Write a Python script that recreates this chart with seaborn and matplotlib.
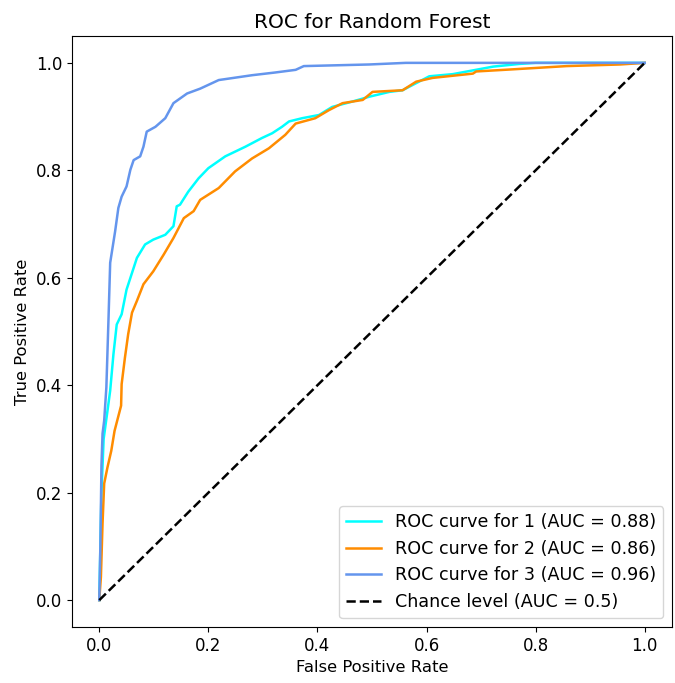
import matplotlib
matplotlib.use("Agg")
import matplotlib.pyplot as plt
import seaborn as sns
import pandas as pd

# ROC curve points
fpr_1 = [0.0, 0.002, 0.004, 0.008, 0.015, 0.020, 0.026, 0.032, 0.041, 0.050, 0.060, 0.069, 0.084, 0.099,
         0.121, 0.136, 0.142, 0.148, 0.163, 0.182, 0.200, 0.231, 0.268, 0.298, 0.317, 0.335, 0.348, 0.372,
         0.403, 0.427, 0.464, 0.495, 0.532, 0.556, 0.605, 0.648, 0.722, 0.770, 0.800, 1.0]
tpr_1 = [0.0, 0.10, 0.20, 0.30, 0.352, 0.39, 0.458, 0.513, 0.532, 0.578, 0.609, 0.637, 0.662, 0.671,
         0.680, 0.696, 0.733, 0.736, 0.760, 0.785, 0.804, 0.826, 0.844, 0.860, 0.869, 0.881, 0.891, 0.897,
         0.903, 0.918, 0.928, 0.937, 0.946, 0.949, 0.975, 0.979, 0.993, 0.998, 1.0, 1.0]

fpr_2 = [0.0, 0.003, 0.006, 0.009, 0.015, 0.022, 0.028, 0.040, 0.041, 0.047, 0.053, 0.060, 0.069, 0.081,
         0.099, 0.118, 0.136, 0.155, 0.173, 0.185, 0.219, 0.249, 0.280, 0.311, 0.341, 0.360, 0.396, 0.421,
         0.446, 0.483, 0.501, 0.556, 0.581, 0.611, 0.685, 0.691, 0.759, 0.857, 0.955, 1.0]
tpr_2 = [0.0, 0.043, 0.143, 0.217, 0.247, 0.278, 0.315, 0.362, 0.402, 0.451, 0.495, 0.535, 0.557, 0.588,
         0.612, 0.643, 0.674, 0.711, 0.724, 0.745, 0.767, 0.798, 0.822, 0.841, 0.866, 0.887, 0.897, 0.912,
         0.925, 0.931, 0.946, 0.949, 0.965, 0.972, 0.980, 0.984, 0.988, 0.994, 0.997, 1.0]

fpr_3 = [0.0, 0.002, 0.004, 0.006, 0.009, 0.013, 0.017, 0.020, 0.029, 0.035, 0.041, 0.050, 0.057, 0.063,
         0.075, 0.081, 0.087, 0.103, 0.121, 0.136, 0.161, 0.185, 0.219, 0.280, 0.322, 0.360, 0.375, 0.495,
         0.562, 1.0]
tpr_3 = [0.0, 0.10, 0.25, 0.31, 0.334, 0.396, 0.526, 0.628, 0.686, 0.730, 0.751, 0.770, 0.801, 0.819,
         0.826, 0.844, 0.872, 0.881, 0.897, 0.925, 0.943, 0.952, 0.968, 0.977, 0.982, 0.987, 0.994, 0.997,
         1.0, 1.0]

class_names = ["1", "2", "3"]
auc_values = [0.88, 0.86, 0.96]
colors = ["aqua", "darkorange", "cornflowerblue"]
chance_x = [0.0, 1.0]
chance_y = [0.0, 1.0]

fig = plt.figure(figsize=(6.75, 6.83), dpi=100)
ax = fig.add_axes([72 / 675, 1 - 627 / 683, 600 / 675, 591 / 683])

curves = [(fpr_1, tpr_1), (fpr_2, tpr_2), (fpr_3, tpr_3)]
for (fx, ty), name, auc, col in zip(curves, class_names, auc_values, colors):
    df = pd.DataFrame({"fpr": fx, "tpr": ty})
    sns.lineplot(data=df, x="fpr", y="tpr", sort=False, estimator=None, color=col,
                 linewidth=1.8, label=f"ROC curve for {name} (AUC = {auc:.2f})", ax=ax)

sns.lineplot(x=chance_x, y=chance_y, color="k", linestyle="--", linewidth=1.8,
             label="Chance level (AUC = 0.5)", ax=ax)

ax.set_xlim(-0.05, 1.05)
ax.set_ylim(-0.05, 1.05)
ax.set_xticks([0.0, 0.2, 0.4, 0.6, 0.8, 1.0])
ax.set_yticks([0.0, 0.2, 0.4, 0.6, 0.8, 1.0])
ax.tick_params(labelsize=12)
ax.set_xlabel("False Positive Rate", fontsize=11.8)
ax.set_ylabel("True Positive Rate", fontsize=11.8)
ax.set_title("ROC for Random Forest", fontsize=14.5)
ax.legend(loc="lower right", fontsize=12.6)

fig.savefig("out.png", dpi=100)
